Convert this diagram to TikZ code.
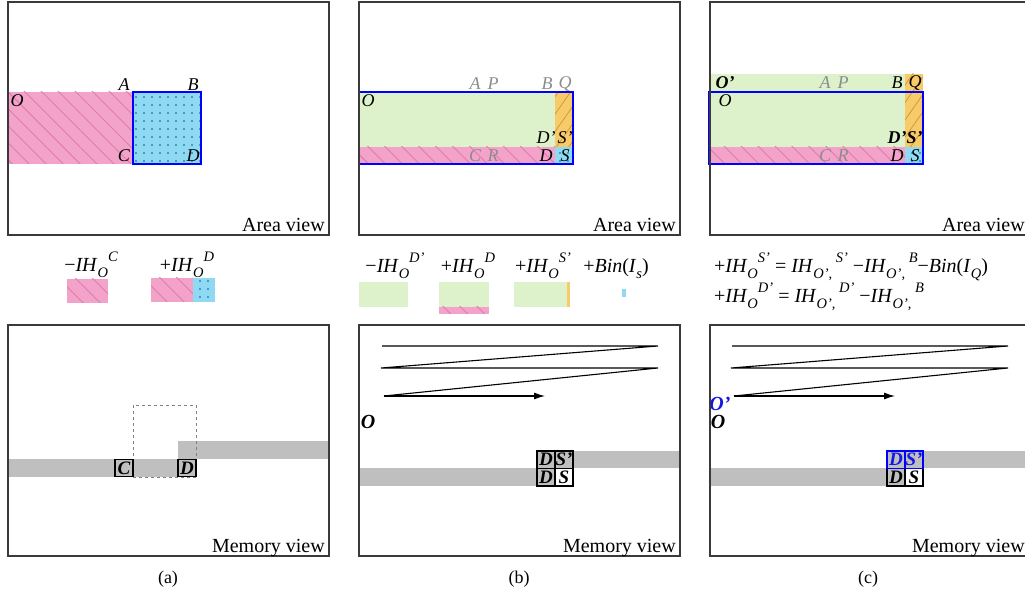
\documentclass[tikz,border=0pt]{standalone}
\usepackage{fontspec}
\setmainfont{Liberation Serif}
\usetikzlibrary{patterns.meta,arrows.meta}

\definecolor{pinkfill}{HTML}{F3A3C9}
\definecolor{pinkline}{HTML}{E07CAE}
\definecolor{cyanfill}{HTML}{8FDAF2}
\definecolor{dotcol}{HTML}{2A88C0}
\definecolor{greenfill}{HTML}{DDF1CB}
\definecolor{orangefill}{HTML}{F7CA6A}
\definecolor{orangeline}{HTML}{D09530}
\definecolor{bandgray}{HTML}{BFBFBF}
\definecolor{labelgray}{HTML}{8C8C8C}
\definecolor{regblue}{HTML}{1515E6}
\definecolor{framecol}{HTML}{3A3A3A}

% lowered subscript followed by a raised superscript, in text italic
\newcommand{\scr}[2]{\raisebox{-0.3em}{\fontsize{14.5}{14.5}\selectfont\itshape #1}\raisebox{0.5em}{\fontsize{14.5}{14.5}\selectfont\itshape #2}}
\newcommand{\lowsub}[1]{\raisebox{-0.3em}{\fontsize{14.5}{14.5}\selectfont\itshape #1}}
\newcommand{\ihterm}[2]{\textit{IH}\scr{#1}{#2}}

\tikzset{
  pinkarea/.style={fill=pinkfill, postaction={pattern={Lines[angle=-45,distance=12pt,line width=0.9pt]}, pattern color=pinkline}},
  cyanarea/.style={fill=cyanfill, postaction={pattern={Dots[distance=8pt,radius=1.1pt]}, pattern color=dotcol}},
  orangearea/.style={fill=orangefill, postaction={pattern={Lines[angle=55,distance=10pt,line width=0.7pt]}, pattern color=orangeline}},
  greenarea/.style={fill=greenfill},
  blueedge/.style={draw=blue, line width=1.6pt},
  frame/.style={draw=framecol, line width=1.1pt},
  band/.style={fill=bandgray},
  lbl/.style={inner sep=0pt, font=\fontsize{18}{18}\selectfont\itshape},
  glbl/.style={lbl, text=labelgray},
  blbl/.style={inner sep=0pt, font=\fontsize{18}{18}\selectfont\bfseries\itshape},
  viewtxt/.style={inner sep=0pt, anchor=base east, font=\fontsize{20}{20}\selectfont},
  legtxt/.style={inner sep=0pt, anchor=base, font=\fontsize{20}{20}\selectfont},
  cell/.style={draw=black, line width=1.1pt, minimum width=18pt, minimum height=17.5pt, inner sep=0pt,
    font=\fontsize{19}{19}\selectfont\bfseries\itshape},
  zig/.style={draw=black, line width=1.1pt},
  captxt/.style={inner sep=0pt, anchor=base, font=\fontsize{18}{18}\selectfont},
}

\begin{document}
\begin{tikzpicture}[x=1pt,y=-1pt]
\useasboundingbox (0,0) rectangle (1025,593);

% ---------------- (a) area view ----------------
\fill[pinkarea] (8,92) rectangle (133,164);
\fill[cyanarea] (133,92) rectangle (201,164);
\draw[blueedge] (133,92) rectangle (201,164);
\node[lbl] (aO) at (17,101) {O};
\node[lbl] (aA) at (124,85) {A};
\node[lbl] (aB) at (193,85) {B};
\node[lbl] (aC) at (124,156) {C};
\node[lbl] (aD) at (193,156) {D};
\draw[frame] (8,2) rectangle (329,235);
\node[viewtxt] (aview) at (325,232) {Area view};

% ---------------- (b) area view ----------------
\fill[greenarea] (359,92) rectangle (555,147);
\fill[orangearea] (555,92) rectangle (573,147);
\fill[pinkarea] (359,147) rectangle (555,164);
\fill[cyanarea] (555,147) rectangle (573,164);
\draw[blueedge] (359,92) rectangle (573,164);
\node[glbl] (bA) at (475,84) {A};
\node[glbl] (bP) at (493,84) {P};
\node[glbl] (bB) at (547,84) {B};
\node[glbl] (bQ) at (565,84) {Q};
\node[lbl] (bO) at (368,101) {O};
\node[lbl] (bDp) at (546,138) {D'};
\node[lbl] (bSp) at (565,138) {S'};
\node[glbl] (bC) at (475,156) {C};
\node[glbl] (bR) at (493,156) {R};
\node[lbl] (bD) at (546,156) {D};
\node[lbl] (bS) at (565,156) {S};
\draw[frame] (359,2) rectangle (680,235);
\node[viewtxt] (bview) at (676,232) {Area view};

% ---------------- (c) area view ----------------
\fill[greenarea] (709,74) rectangle (905,147);
\fill[orangearea] (905,74) rectangle (923,147);
\fill[pinkarea] (709,147) rectangle (905,164);
\fill[cyanarea] (905,147) rectangle (923,164);
\draw[blueedge] (709,92) rectangle (923,164);
\node[blbl] (cOp) at (725,83) {O'};
\node[glbl] (cA) at (825,83) {A};
\node[glbl] (cP) at (843,83) {P};
\node[lbl] (cB) at (897,83) {B};
\node[lbl] (cQ) at (915,83) {Q};
\node[lbl] (cO) at (725,101) {O};
\node[blbl] (cDS) at (905,138) {D'S'};
\node[glbl] (cC) at (825,156) {C};
\node[glbl] (cR) at (843,156) {R};
\node[lbl] (cD) at (897,156) {D};
\node[lbl] (cS) at (915,156) {S};
\draw[frame] (710,2) rectangle (1030,235);
\node[viewtxt] (cview) at (1025,232) {Area view};

% ---------------- legends ----------------
\node[legtxt] (la1) at (91,272) {−\ihterm{O}{C}};
\fill[pinkarea] (67,279) rectangle (108,303);
\node[legtxt] (la2) at (187,272) {+\ihterm{O}{D}};
\fill[pinkarea] (151,278) rectangle (193,302);
\fill[cyanarea] (193,278) rectangle (215,302);

\node[legtxt] (lb1) at (395,273) {−\ihterm{O}{D'}};
\fill[greenarea] (359,282) rectangle (408,307);
\node[legtxt] (lb2) at (468,273) {+\ihterm{O}{D}};
\fill[greenarea] (439,282) rectangle (489,307);
\fill[pinkarea] (439,307) rectangle (489,314);
\node[legtxt] (lb3) at (543,273) {+\ihterm{O}{S'}};
\fill[greenarea] (514,282) rectangle (567,307);
\fill[orangefill] (567,282) rectangle (569.5,307);
\node[legtxt] (lb4) at (616,273) {+\textit{Bin}(\textit{I}\lowsub{s})};
\fill[cyanfill] (622,289) rectangle (625.5,297);

\node[legtxt, anchor=base west] (lc1) at (714,273)
  {+\ihterm{O}{S'}\ = \textit{IH}\scr{O', }{S'} −\textit{IH}\scr{O', }{B}−\textit{Bin}(\textit{I}\lowsub{Q})};
\node[legtxt, anchor=base west] (lc2) at (714,303)
  {+\ihterm{O}{D'}\ = \textit{IH}\scr{O', }{D'} −\textit{IH}\scr{O', }{B}};

% ---------------- (a) memory view ----------------
\fill[band] (8,459) rectangle (178,477);
\fill[band] (178,441) rectangle (329,459);
\draw[draw=gray, dashed, line width=0.6pt] (133,405) rectangle (196,477);
\node[cell, fill=bandgray] (mC) at (124,468) {C};
\node[cell, fill=bandgray] (mD) at (187,468) {D};
\draw[frame] (8,325) rectangle (329,556);
\node[viewtxt] (amem) at (325,552) {Memory view};

% ---------------- (b) memory view ----------------
\coordinate (b1) at (382,346);
\coordinate (b2) at (658,346);
\coordinate (b3) at (381,368);
\coordinate (b4) at (658,368);
\coordinate (b5) at (384,396);
\coordinate (b6) at (545,396);
\draw[zig] (b1) -- (b2) -- (b3) -- (b4) -- (b5);
\draw[zig, -{Latex[length=11pt,width=7pt]}] (b5) -- (b6);
\node[blbl, font=\fontsize{20}{20}\selectfont\bfseries\itshape] (mbO) at (368,422) {O};
\fill[band] (555,451) rectangle (680,468);
\fill[band] (359,468) rectangle (555,486);
\node[cell, fill=bandgray] (bDt) at (546,459.75) {D};
\node[cell, fill=bandgray] (bSt) at (564,459.75) {S'};
\node[cell, fill=bandgray] (bDb) at (546,477.25) {D};
\node[cell, fill=white] (bSb) at (564,477.25) {S};
\draw[frame] (359,325) rectangle (680,556);
\node[viewtxt] (bmem) at (676,552) {Memory view};

% ---------------- (c) memory view ----------------
\coordinate (c1) at (732,346);
\coordinate (c2) at (1008,346);
\coordinate (c3) at (731,368);
\coordinate (c4) at (1008,368);
\coordinate (c5) at (734,396);
\coordinate (c6) at (895,396);
\draw[zig] (c1) -- (c2) -- (c3) -- (c4) -- (c5);
\draw[zig, -{Latex[length=11pt,width=7pt]}] (c5) -- (c6);
\node[blbl, font=\fontsize{20}{20}\selectfont\bfseries\itshape, text=regblue] (mcOp) at (720,404) {O'};
\node[blbl, font=\fontsize{20}{20}\selectfont\bfseries\itshape] (mcO) at (718,422) {O};
\fill[band] (905,451) rectangle (1030,468);
\fill[band] (709,468) rectangle (905,486);
\node[cell, fill=bandgray] (cDb) at (896,477.25) {D};
\node[cell, fill=white] (cSb) at (914,477.25) {S};
\node[cell, fill=bandgray, draw=blue, text=regblue] (cDt) at (896,459.75) {D};
\node[cell, fill=bandgray, draw=blue, text=regblue] (cSt) at (914,459.75) {S'};
\draw[frame] (710,325) rectangle (1030,556);
\node[viewtxt] (cmem) at (1025,552) {Memory view};

% ---------------- captions ----------------
\node[captxt] (capa) at (168,583) {(a)};
\node[captxt] (capb) at (519,583) {(b)};
\node[captxt] (capc) at (868,583) {(c)};
\end{tikzpicture}
\end{document}
